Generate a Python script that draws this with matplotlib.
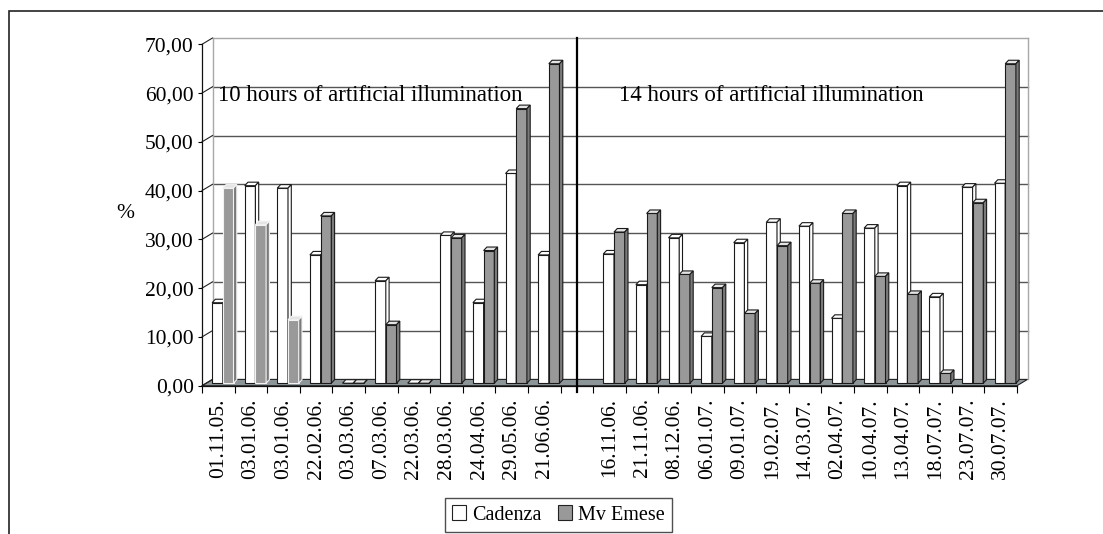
#!/usr/bin/env python3
import matplotlib
matplotlib.use("Agg")
import matplotlib.pyplot as plt
from matplotlib.patches import Polygon, Rectangle, Patch
from matplotlib.ticker import FuncFormatter
import numpy as np

nan = float("nan")

dates = [
    "01.11.05.", "03.01.06.", "03.01.06.", "22.02.06.", "03.03.06.", "07.03.06.",
    "22.03.06.", "28.03.06.", "24.04.06.", "29.05.06.", "21.06.06.", "",
    "16.11.06.", "21.11.06.", "08.12.06.", "06.01.07.", "09.01.07.", "19.02.07.",
    "14.03.07.", "02.04.07.", "10.04.07.", "13.04.07.", "18.07.07.", "23.07.07.",
    "30.07.07.",
]
cadenza = [16.5, 40.5, 40.0, 26.3, 0.0, 21.0, 0.0, 30.3, 16.5, 43.0, 26.3, nan,
           26.5, 20.2, 29.8, 9.6, 28.8, 33.0, 32.2, 13.3, 31.8, 40.5, 17.7, 40.2, 41.0]
mv_emese = [40.0, 32.5, 13.0, 34.3, 0.0, 12.0, 0.0, 29.8, 27.2, 56.3, 65.5, nan,
            31.0, 34.8, 22.3, 19.6, 14.3, 28.2, 20.5, 34.8, 21.9, 18.2, 2.0, 37.0, 65.5]
series_names = ["Cadenza", "Mv Emese"]
section_labels = ["10 hours of artificial illumination", "14 hours of artificial illumination"]
y_ticks = [0, 10, 20, 30, 40, 50, 60, 70]

plt.rcParams["font.family"] = "Liberation Serif"
FS = 15.5

W, H = 1103, 534
fig = plt.figure(figsize=(W / 100, H / 100), dpi=100)

n = len(dates)
ax_w, ax_h = 815.0, 341.4
ax = fig.add_axes([202 / W, (H - 385.7) / H, ax_w / W, ax_h / H])
ax.set_xlim(0, n)
ax.set_ylim(0, 70)
ux = ax_w / n
uy = ax_h / 70

# pseudo-3d offsets (pixels -> data units)
DX, DY = 10.5 / ux, 6.3 / uy      # back wall
FX, FY = 4.5 / ux, 2.5 / uy       # bar front face
BX, BY = 3.3 / ux, 3.5 / uy       # bar depth
bw = 10.7 / ux

# floor
ax.add_patch(Polygon([(0, 0), (n, 0), (n + DX, DY), (DX, DY)], closed=True,
                     fc="#8c9598", ec="#222222", lw=0.8, zorder=1, clip_on=False))

# back wall gridlines and edges
for v in y_ticks[1:]:
    col = "#a8a8a8" if v == y_ticks[-1] else "#555555"
    ax.plot([DX, n + DX], [v + DY, v + DY], color=col, lw=1.0, zorder=0.5, clip_on=False)
for xe in (DX, n + DX):
    ax.plot([xe, xe], [DY, y_ticks[-1] + DY], color="#a8a8a8", lw=1.0, zorder=0.5, clip_on=False)
# side wall tick diagonals
for v in y_ticks:
    ax.plot([0, DX], [v, v + DY], color="#222222", lw=0.8, zorder=1.5, clip_on=False)


def draw_bars(left, vals, front, top, side, edges, z):
    left = np.asarray(left)
    vals = np.asarray(vals)
    ok = ~np.isnan(vals)
    bars = ax.bar(left[ok], vals[ok], width=bw, bottom=FY, align="edge",
                  color=front, edgecolor=[e for e, k in zip(edges, ok) if k],
                  lw=0.8, zorder=z, clip_on=False)
    for r in bars:
        x0, y0 = r.get_x(), r.get_y()
        w, h = r.get_width(), r.get_height()
        y1 = y0 + h
        ec = r.get_edgecolor()
        ax.add_patch(Polygon([(x0, y1), (x0 + w, y1), (x0 + w + BX, y1 + BY), (x0 + BX, y1 + BY)],
                             closed=True, fc=top, ec=ec, lw=0.8, zorder=z, clip_on=False))
        ax.add_patch(Polygon([(x0 + w, y0), (x0 + w + BX, y0 + BY), (x0 + w + BX, y1 + BY), (x0 + w, y1)],
                             closed=True, fc=side, ec=ec, lw=0.8, zorder=z, clip_on=False))


centers = np.arange(n) + 0.5
white_edges = ["#1a1a1a"] * n
grey_edges = ["#f2f2f2"] * 3 + ["#1a1a1a"] * (n - 3)
draw_bars(centers - bw + FX, cadenza, "white", "white", "white", white_edges, 2)
draw_bars(centers + FX, mv_emese, "#999999", "#e4e4e4", "#7a7a7a", grey_edges, 3)

# separator between the two lighting periods
ax.plot([11.5, 11.5], [-1.2, y_ticks[-1] + DY], color="black", lw=1.6, zorder=4, clip_on=False)

ax.text(0.5, 58.3, section_labels[0], fontsize=16.5, zorder=5)
ax.text(12.8, 58.3, section_labels[1], fontsize=16.5, zorder=5)

# axes
for s in ("top", "right"):
    ax.spines[s].set_visible(False)
for s in ("left", "bottom"):
    ax.spines[s].set_color("#111111")
    ax.spines[s].set_linewidth(0.9)
    ax.spines[s].set_zorder(1.6)
ax.set_yticks(y_ticks)
ax.yaxis.set_major_formatter(FuncFormatter(lambda v, p: f"{v:.2f}".replace(".", ",")))
ax.tick_params(axis="y", direction="out", length=3, width=0.8, pad=3, labelsize=FS)
ax.set_xticks(np.arange(n + 1))
ax.set_xticklabels([])
ax.tick_params(axis="x", which="major", direction="out", length=5, width=0.8)
ax.set_xticks(centers, minor=True)
ax.set_xticklabels(dates, minor=True, rotation=90, fontsize=FS)
ax.tick_params(axis="x", which="minor", length=0, pad=9)
ax.set_facecolor("none")

fig.text(125 / W, 1 - 213 / H, "%", ha="center", va="center", fontsize=FS)

handles = [Patch(fc="white", ec="#222222", lw=0.8), Patch(fc="#999999", ec="#222222", lw=0.8)]
leg = fig.legend(handles, series_names, loc="center", bbox_to_anchor=(558.5 / W, 1 - 515 / H),
                 ncol=2, fontsize=14.5, frameon=True, fancybox=False, handlelength=0.7,
                 handleheight=0.7, handletextpad=0.3, columnspacing=0.8, borderpad=0.35,
                 borderaxespad=0)
leg.get_frame().set_edgecolor("#222222")
leg.get_frame().set_linewidth(1.0)

fig.add_artist(Rectangle((9 / W, -0.1), 1.2, 1 - 11 / H + 0.1, transform=fig.transFigure,
                         fill=False, ec="#222222", lw=1.2))

fig.savefig("out.png", dpi=100)
